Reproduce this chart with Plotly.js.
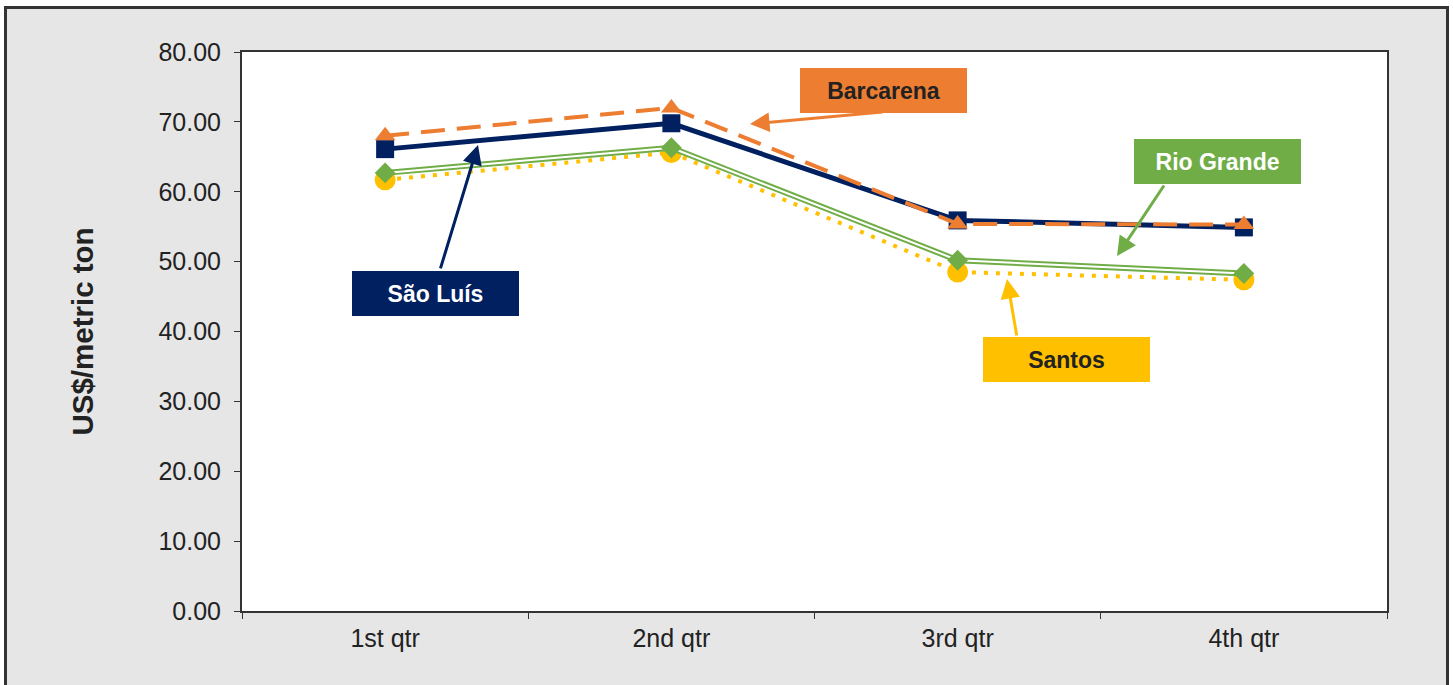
<!DOCTYPE html>
<html>
<head>
<meta charset="utf-8">
<script src="https://cdn.plot.ly/plotly-3.0.1.min.js"></script>
<style>
  html, body { margin: 0; padding: 0; background: #ffffff; width: 1453px; height: 685px; overflow: hidden; }
  #frame { position: absolute; left: 4px; top: 6px; width: 1439px; height: 700px; border: 3px solid #333333; background: #e6e6e6; }
  #chart { position: absolute; left: 0; top: 0; width: 1439px; height: 676px; }
</style>
</head>
<body>
<div id="frame"><div id="chart"></div></div>
<script>
// ---- data ----
const quarters = ["1st qtr", "2nd qtr", "3rd qtr", "4th qtr"];
const saoLuis   = [66.1, 69.8, 55.9, 54.9];
const barcarena = [68.0, 72.0, 55.4, 55.3];
const rioGrande = [62.7, 66.3, 50.2, 48.3];
const santos    = [61.7, 65.6, 48.5, 47.4];
const yTicks    = [0, 10, 20, 30, 40, 50, 60, 70, 80];

const NAVY = "#002060", ORANGE = "#ED7D31", GREEN = "#70AD47", YELLOW = "#FFC000";

const traces = [
  { x: quarters, y: santos, name: "Santos", mode: "lines+markers",
    line: { color: YELLOW, width: 4, dash: "4px,8px" },
    marker: { symbol: "circle", size: 21, color: YELLOW } },
  { x: quarters, y: rioGrande, name: "Rio Grande", mode: "lines",
    line: { color: GREEN, width: 6 } },
  { x: quarters, y: rioGrande, name: "Rio Grande inner", mode: "lines",
    line: { color: "#ffffff", width: 2 } },
  { x: quarters, y: rioGrande, name: "Rio Grande markers", mode: "markers",
    marker: { symbol: "diamond", size: 16, color: GREEN } },
  { x: quarters, y: saoLuis, name: "São Luís", mode: "lines+markers",
    line: { color: NAVY, width: 5 },
    marker: { symbol: "square", size: 18, color: NAVY } },
  { x: quarters, y: barcarena, name: "Barcarena", mode: "lines+markers",
    line: { color: ORANGE, width: 4, dash: "24px,12px" },
    marker: { symbol: "triangle-up", size: 18, color: ORANGE } }
];

function box(text, x, y, bg, fg) {
  return { x: x, y: y, xref: "x", yref: "y", text: "<b>" + text + "</b>", showarrow: false,
    bgcolor: bg, width: 167, height: 45, borderpad: 0, borderwidth: 0,
    font: { family: "Liberation Sans, Arial, sans-serif", size: 23, color: fg },
    xanchor: "center", yanchor: "middle" };
}
function arrow(x, y, ax, ay, color) {
  return { x: x, y: y, xref: "x", yref: "y", text: "", showarrow: true, ax: ax, ay: ay,
    arrowcolor: color, arrowwidth: 3, arrowhead: 2, arrowsize: 1.3, standoff: 0, startstandoff: 0 };
}

const layout = {
  width: 1439, height: 676,
  margin: { l: 235, r: 59, t: 43, b: 74 },
  paper_bgcolor: "rgba(0,0,0,0)",
  plot_bgcolor: "#ffffff",
  showlegend: false,
  font: { family: "Liberation Sans, Arial, sans-serif", color: "#222222", size: 25 },
  xaxis: {
    type: "category", range: [-0.5, 3.5], tickson: "boundaries",
    ticks: "outside", ticklen: 6, tickcolor: "#333333", tickwidth: 1,
    showline: true, linecolor: "#333333", linewidth: 2, mirror: true,
    showgrid: false, zeroline: false, ticklabelstandoff: 4,
    tickfont: { size: 25, color: "#222222" }
  },
  yaxis: {
    range: [0, 80], tickvals: yTicks, tickformat: ".2f",
    ticks: "outside", ticklen: 6, tickcolor: "#333333", tickwidth: 1,
    showline: true, linecolor: "#333333", linewidth: 2, mirror: true,
    showgrid: false, zeroline: false, ticklabelstandoff: 8,
    tickfont: { size: 25, color: "#222222" },
    title: { text: "<b>US$/metric ton</b>", font: { size: 29.5, color: "#222222" }, standoff: 56 }
  },
  annotations: [
    arrow(0.3245, 66.7, -38, 125, NAVY),
    arrow(1.2747, 69.7, 134, -12, ORANGE),
    arrow(2.5568, 50.8, 48, -72, GREEN),
    arrow(2.1725, 47.5, 10, 58, YELLOW),
    box("Barcarena", 1.7393, 74.56, ORANGE, "#222222"),
    box("São Luís", 0.1777, 45.5, NAVY, "#ffffff"),
    box("Rio Grande", 2.9079, 64.4, GREEN, "#ffffff"),
    box("Santos", 2.3786, 36.0, YELLOW, "#222222")
  ]
};

Plotly.newPlot("chart", traces, layout, { displayModeBar: false, staticPlot: true });
</script>
</body>
</html>
